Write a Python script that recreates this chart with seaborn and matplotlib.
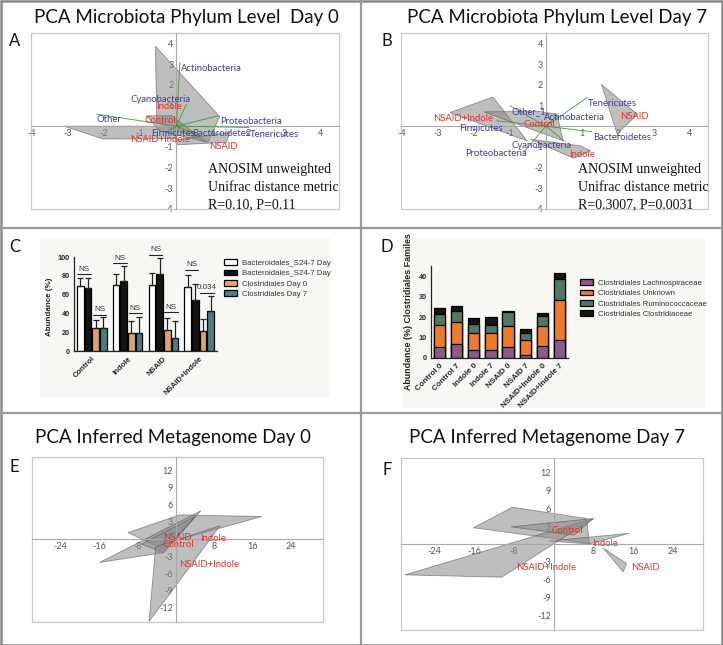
import matplotlib
matplotlib.use("Agg")
import matplotlib.pyplot as plt
import numpy as np
import pandas as pd
import seaborn as sns
from matplotlib.lines import Line2D
from matplotlib.patches import Patch, Rectangle

# ── DATA ──
# Panel A: PCA phylum level, day 0
pca_a_hulls = [
    [(-0.58, 3.86), (1.2, 0.47), (0.87, -0.8), (-0.54, 0.18)],
    [(-3.1, 0.0), (0.1, 0.0), (0.0, -0.6), (-2.03, -0.62)],
    [(-0.83, 0.5), (-0.12, 0.5), (0.84, -0.78), (-0.46, -0.22)],
    [(-0.02, -0.66), (1.48, -0.3), (1.39, -0.78), (0.0, -0.9)],
]
pca_a_taxa = ["Actinobacteria", "Cyanobacteria", "Other", "Proteobacteria",
              "Tenericutes", "Firmicutes", "Bacteroidetes"]
pca_a_load_x = [0.1, 0.28, -2.2, 1.16, 2.0, -0.3, 0.5]
pca_a_load_y = [3.09, 1.06, 0.58, 0.5, -0.06, -0.3, -0.35]
pca_a_taxa_x = [0.14, -1.26, -2.2, 1.2, 2.02, -0.69, 0.44]
pca_a_taxa_y = [2.79, 1.27, 0.3, 0.24, -0.4, -0.34, -0.34]
pca_a_groups = ["Indole", "Control", "NSAID+Indole", "NSAID"]
pca_a_group_x = [-0.55, -0.88, -1.29, 0.9]
pca_a_group_y = [0.95, 0.27, -0.66, -0.96]

# Panel B: PCA phylum level, day 7
pca_b_hulls = [
    [(1.54, 2.02), (2.54, 0.58), (1.98, -0.38)],
    [(-2.66, 0.66), (-1.47, 1.41), (-0.52, -0.71)],
    [(-1.71, 0.69), (-0.2, 0.72), (0.31, 0.58), (0.48, -0.71)],
    [(-0.43, -0.63), (0.96, -0.95), (1.24, -1.19), (0.77, -1.55)],
]
pca_b_taxa = ["Tenericutes", "Other_1", "Actinobacteria", "Firmicutes",
              "Bacteroidetes", "Cyanobacteria", "Proteobacteria"]
pca_b_load_x = [1.15, -0.99, 0.3, -1.36, 1.28, 0.5, -0.62]
pca_b_load_y = [1.38, 0.98, 0.5, 0.26, -0.27, -0.7, -1.27]
pca_b_taxa_x = [1.17, -0.94, -0.04, -2.41, 1.3, -0.96, -2.23]
pca_b_taxa_y = [1.1, 0.7, 0.42, -0.1, -0.54, -0.91, -1.3]
pca_b_groups = ["NSAID+Indole", "Control", "NSAID", "Indole"]
pca_b_group_x = [-3.14, -0.62, 2.06, 0.64]
pca_b_group_y = [0.37, 0.1, 0.45, -1.35]

# Panel C: order-level abundance
groups_c = ["Control", "Indole", "NSAID", "NSAID+Indole"]
series_c = ["Bacteroidales_S24-7 Day", "Bacteroidales_S24-7 Day",
            "Clostridiales Day 0", "Clostridiales Day 7"]
bact_day0 = [69.6, 70.0, 70.7, 68.6]
bact_day7 = [66.8, 74.6, 81.4, 54.6]
clos_day0 = [24.0, 19.3, 22.5, 21.4]
clos_day7 = [24.6, 19.3, 13.6, 42.1]
bact_day0_err = [8.3, 12.0, 12.2, 12.4]
bact_day7_err = [11.1, 16.1, 17.5, 17.2]
clos_day0_err = [8.9, 12.5, 12.9, 12.9]
clos_day7_err = [11.4, 16.7, 18.2, 16.8]
bact_bracket = [81.8, 93.6, 102.5, 86.4]
clos_bracket = [38.6, 40.0, 41.0, 61.8]
clos_bracket_text = ["NS", "NS", "NS", "0.034"]

# Panel D: Clostridiales families
samples_d = ["Control 0", "Control 7", "Indole 0", "Indole 7",
             "NSAID 0", "NSAID 7", "NSAID+Indole 0", "NSAID+Indole 7"]
families_d = ["Clostridiales Lachnospiraceae", "Clostridiales Unknown",
              "Clostridiales Ruminococcaceae", "Clostridiales Clostridiaceae"]
lachno = [5.2, 7.0, 4.1, 3.8, 5.4, 1.6, 5.7, 9.0]
unknown = [11.0, 10.8, 8.1, 8.4, 10.1, 7.2, 10.1, 19.6]
rumino = [5.5, 5.4, 4.3, 4.0, 7.2, 3.3, 4.9, 9.8]
clostri = [2.8, 2.1, 3.1, 3.7, 0.5, 2.3, 1.2, 3.4]

# Panel E: inferred metagenome, day 0
pca_e_hulls = [
    [(-10.0, 1.1), (0.8, 4.2), (17.9, 3.9), (-4.0, -1.2)],
    [(-15.9, -4.1), (5.2, 4.9), (-2.6, -2.4)],
    [(-7.2, -0.9), (4.0, 3.9), (-2.6, -2.4)],
    [(-5.6, -14.4), (-4.2, -1.4), (9.2, 2.3), (-0.1, -8.3)],
]
pca_e_groups = ["NSAID", "Control", "Indole", "NSAID+Indole"]
pca_e_group_x = [-2.7, -2.8, 5.0, 0.6]
pca_e_group_y = [0.3, -0.9, 0.05, -4.4]

# Panel F: inferred metagenome, day 7
pca_f_hulls = [
    [(-16.2, 2.75), (-8.3, 6.2), (6.6, 4.3), (7.2, 0.1)],
    [(-1.0, 0.5), (15.2, 1.8), (7.2, 0.0)],
    [(-30.0, -5.2), (8.0, 4.3), (-10.5, -5.6)],
    [(-8.6, 2.9), (8.0, 4.3), (4.0, 1.5)],
    [(10.0, -0.7), (14.0, -4.7), (14.7, -3.3)],
]
pca_f_groups = ["Control", "Indole", "NSAID+Indole", "NSAID"]
pca_f_group_x = [-0.4, 7.8, -7.6, 15.7]
pca_f_group_y = [2.2, 0.0, -4.0, -4.0]

phylum_ticks = [-4, -3, -2, -1, 1, 2, 3, 4]
meta_xticks = [-24, -16, -8, 8, 16, 24]
meta_yticks = [-12, -9, -6, -3, 3, 6, 9, 12]

# ── STYLE ──
sns.set_theme(style="white")
plt.rcParams["font.family"] = ["Lato", "DejaVu Sans"]

W, H = 723, 645
BLUE = "#3c3ca8"
RED = "#e2342c"
TICK = "#555555"


def rect(x0, y0, x1, y1):
    return [x0 / W, 1 - y1 / H, (x1 - x0) / W, (y1 - y0) / H]


fig = plt.figure(figsize=(W / 100, H / 100), dpi=100)


def pca_axes(r, xlim, ylim, xticks, yticks):
    ax = fig.add_axes(r)
    ax.set_facecolor("white")
    ax.set_xlim(xlim)
    ax.set_ylim(ylim)
    for s in ["top", "right"]:
        ax.spines[s].set_visible(False)
    for s in ["left", "bottom"]:
        ax.spines[s].set_position(("data", 0))
        ax.spines[s].set_color("#a8a8a8")
        ax.spines[s].set_linewidth(0.8)
    ax.set_xticks(xticks)
    ax.set_yticks(yticks)
    ax.set_xticklabels([str(t) for t in xticks])
    ax.set_yticklabels([str(t) for t in yticks])
    ax.tick_params(length=0, labelsize=6.5, labelcolor=TICK, pad=2)
    ax.add_patch(Rectangle((0, 0), 1, 1, transform=ax.transAxes, fill=False,
                           ec="#c8c8c8", lw=0.9, clip_on=False))
    return ax


def draw_hulls(ax, hulls):
    for hull in hulls:
        xs = [p[0] for p in hull]
        ys = [p[1] for p in hull]
        ax.fill(xs, ys, fc="#8a8a8a", alpha=0.55, ec="#4a4a4a", lw=0.6, zorder=2)


def draw_labels(ax, names, xs, ys, color, size=6.8):
    for name, x, y in zip(names, xs, ys):
        ax.text(x, y, name, color=color, fontsize=size, ha="left", va="center", zorder=5)


anosim_font = dict(family="Liberation Serif", fontsize=10, color="#111111")

# ── PANEL A ──
ax_a = pca_axes(rect(31, 33, 339, 209), (-4.02, 4.5), (-4.0, 4.5), phylum_ticks, phylum_ticks)
draw_hulls(ax_a, pca_a_hulls)
for lx, ly in zip(pca_a_load_x, pca_a_load_y):
    ax_a.plot([0, lx], [0, ly], color="#3f9a3f", lw=0.6, zorder=3)
draw_labels(ax_a, pca_a_taxa, pca_a_taxa_x, pca_a_taxa_y, BLUE)
draw_labels(ax_a, pca_a_groups, pca_a_group_x, pca_a_group_y, RED)
for i, line in enumerate(["ANOSIM unweighted", "Unifrac distance metric", "R=0.10, P=0.11"]):
    fig.text(208 / W, 1 - (170 + 17.3 * i) / H, line, ha="left", va="center", **anosim_font)

# ── PANEL B ──
ax_b = pca_axes(rect(401, 33, 708, 209), (-4.02, 4.5), (-4.0, 4.5), phylum_ticks, phylum_ticks)
draw_hulls(ax_b, pca_b_hulls)
for lx, ly in zip(pca_b_load_x, pca_b_load_y):
    ax_b.plot([0, lx], [0, ly], color="#3f9a3f", lw=0.6, zorder=3)
draw_labels(ax_b, pca_b_taxa, pca_b_taxa_x, pca_b_taxa_y, BLUE)
draw_labels(ax_b, pca_b_groups, pca_b_group_x, pca_b_group_y, RED)
for i, line in enumerate(["ANOSIM unweighted", "Unifrac distance metric", "R=0.3007, P=0.0031"]):
    fig.text(578 / W, 1 - (170 + 17.3 * i) / H, line, ha="left", va="center", **anosim_font)

# ── PANEL C ──
fig.add_artist(Rectangle((40 / W, 1 - 397 / H), 290 / W, 159 / H, transform=fig.transFigure,
                         fc="#f7f7f4", ec="none", zorder=0))
ax_c = fig.add_axes(rect(74, 257, 217, 351))
ax_c.patch.set_alpha(0)
keys_c = ["b0", "b7", "c0", "c7"]
colors_c = ["#ffffff", "#141414", "#f0a752", "#3a8a8a"]
df_c = pd.DataFrame({
    "group": groups_c * 4,
    "series": np.repeat(keys_c, len(groups_c)),
    "value": bact_day0 + bact_day7 + clos_day0 + clos_day7,
})
sns.barplot(data=df_c, x="group", y="value", hue="series", hue_order=keys_c,
            palette=colors_c, edgecolor="black", linewidth=0.9, width=0.86, gap=0.14,
            errorbar=None, legend=False, ax=ax_c)
errs_c = [bact_day0_err, bact_day7_err, clos_day0_err, clos_day7_err]
centers = []
for cont, errs in zip(ax_c.containers, errs_c):
    xs = [p.get_x() + p.get_width() / 2 for p in cont]
    ys = [p.get_height() for p in cont]
    centers.append(xs)
    ax_c.errorbar(xs, ys, yerr=[np.zeros(len(errs)), errs], fmt="none",
                  ecolor="#222222", elinewidth=0.9, capsize=2, capthick=0.9, zorder=4)
for i in range(len(groups_c)):
    x0, x1 = centers[0][i] - 0.08, centers[1][i] + 0.08
    ax_c.plot([x0, x1], [bact_bracket[i]] * 2, color="#222222", lw=0.8, clip_on=False)
    ax_c.text((x0 + x1) / 2, bact_bracket[i] + 1.5, "NS", ha="center", va="bottom",
              fontsize=5.8, color="#333333", family="Liberation Sans")
    x0, x1 = centers[2][i] - 0.08, centers[3][i] + 0.08
    ax_c.plot([x0, x1], [clos_bracket[i]] * 2, color="#222222", lw=0.8, clip_on=False)
    ax_c.text((x0 + x1) / 2, clos_bracket[i] + 1.5, clos_bracket_text[i], ha="center",
              va="bottom", fontsize=5.8, color="#333333", family="Liberation Sans")
ax_c.set_ylim(0, 100)
ax_c.set_xlim(-0.5, 3.5)
ax_c.set_yticks([0, 20, 40, 60, 80, 100])
sns.despine(ax=ax_c)
for s in ["left", "bottom"]:
    ax_c.spines[s].set_color("#222222")
    ax_c.spines[s].set_linewidth(0.9)
ax_c.tick_params(axis="both", length=2, width=0.8, color="#222222", labelsize=5.2, pad=1)
for lab in ax_c.get_yticklabels():
    lab.set_fontweight("bold")
    lab.set_family("Liberation Sans")
ax_c.set_xticks(range(len(groups_c)))
ax_c.set_xticklabels(groups_c, rotation=45, ha="right", rotation_mode="anchor",
                     fontsize=5.6, fontweight="bold", family="Liberation Sans")
ax_c.set_xlabel("")
ax_c.set_ylabel("Abundance (%)", fontsize=5.8, fontweight="bold", family="Liberation Sans")
ax_c.yaxis.set_label_coords(-0.15, 0.47)
ax_c.grid(False)
handles_c = [Patch(fc=c, ec="black", lw=0.9) for c in colors_c]
fig.legend(handles_c, series_c, loc="upper left", bbox_to_anchor=(221 / W, 1 - 256 / H),
           frameon=False, handlelength=1.6, handleheight=0.8,
           labelspacing=0.35, handletextpad=0.7, borderaxespad=0, labelcolor="#333333",
           prop={"family": "Liberation Sans", "size": 5.6})

# ── PANEL D ──
fig.add_artist(Rectangle((403 / W, 1 - 408 / H), 302 / W, 170 / H, transform=fig.transFigure,
                         fc="#f7f7f4", ec="none", zorder=0))
ax_d = fig.add_axes(rect(431, 266, 568, 358))
ax_d.patch.set_alpha(0)
layers_d = [lachno, unknown, rumino, clostri]
colors_d = ["#8c5a88", "#f07a26", "#4e7b5e", "#151515"]
cum_d = np.cumsum(np.array(layers_d), axis=0)
for level in range(len(layers_d) - 1, -1, -1):
    sns.barplot(x=samples_d, y=cum_d[level], color=colors_d[level], edgecolor="black",
                linewidth=0.9, width=0.66, ax=ax_d, saturation=1)
ax_d.set_ylim(0, 45)
ax_d.set_xlim(-0.5, 7.5)
ax_d.set_yticks([0, 10, 20, 30, 40])
sns.despine(ax=ax_d)
for s in ["left", "bottom"]:
    ax_d.spines[s].set_color("#222222")
    ax_d.spines[s].set_linewidth(0.9)
ax_d.tick_params(axis="both", length=2, width=0.8, color="#222222", labelsize=5.2, pad=1)
for lab in ax_d.get_yticklabels():
    lab.set_fontweight("bold")
    lab.set_family("Liberation Sans")
ax_d.set_xticks(range(len(samples_d)))
ax_d.set_xticklabels(samples_d, rotation=45, ha="right", rotation_mode="anchor",
                     fontsize=5.8, fontweight="bold", family="Liberation Sans")
ax_d.set_ylabel("Abundance (%) Clostridiales Familes", fontsize=6.4, fontweight="bold",
                family="Liberation Sans")
ax_d.yaxis.set_label_coords(-0.13, 0.5)
ax_d.grid(False)
handles_d = [Patch(fc=c, ec="black", lw=0.9) for c in colors_d]
fig.legend(handles_d, families_d, loc="upper left", bbox_to_anchor=(577 / W, 1 - 276 / H),
           frameon=False, handlelength=1.6, handleheight=0.8, labelspacing=0.35,
           handletextpad=0.7, borderaxespad=0, labelcolor="#333333",
           prop={"family": "Liberation Sans", "size": 5.6})

# ── PANEL E ──
ax_e = pca_axes(rect(32, 457, 323, 622), (-30.0, 30.7), (-14.5, 14.3), meta_xticks, meta_yticks)
draw_hulls(ax_e, pca_e_hulls)
draw_labels(ax_e, pca_e_groups, pca_e_group_x, pca_e_group_y, RED)

# ── PANEL F ──
ax_f = pca_axes(rect(401, 458, 703, 630), (-30.8, 30.1), (-14.5, 14.5), meta_xticks, meta_yticks)
draw_hulls(ax_f, pca_f_hulls)
draw_labels(ax_f, pca_f_groups, pca_f_group_x, pca_f_group_y, RED)

# ── TITLES, LETTERS, FRAME ──
titles = [("PCA Microbiota Phylum Level  Day 0", 186, 17.5),
          ("PCA Microbiota Phylum Level Day 7", 557, 17.5),
          ("PCA Inferred Metagenome Day 0", 173, 437),
          ("PCA Inferred Metagenome Day 7", 547, 437)]
for txt, x, y in titles:
    fig.text(x / W, 1 - y / H, txt, ha="center", va="center", fontsize=13.5, color="#111111")
letters = [("A", 14.5, 41.5), ("B", 387, 41.5), ("C", 14.5, 247), ("D", 387, 247),
           ("E", 14.5, 467), ("F", 387, 470)]
for txt, x, y in letters:
    fig.text(x / W, 1 - y / H, txt, ha="center", va="center", fontsize=12, color="#111111")

frame_kw = dict(transform=fig.transFigure, color="#9a9a9a", lw=1.6)
fig.add_artist(Line2D([0, 1], [1 - 228 / H] * 2, **frame_kw))
fig.add_artist(Line2D([0, 1], [1 - 413 / H] * 2, **frame_kw))
fig.add_artist(Line2D([361 / W] * 2, [0, 1], **frame_kw))
fig.add_artist(Rectangle((0.5 / W, 0.5 / H), 1 - 1.5 / W, 1 - 1.5 / H, transform=fig.transFigure,
                         fill=False, ec="#8a8a8a", lw=1.8))

fig.savefig("out.png", dpi=100)
